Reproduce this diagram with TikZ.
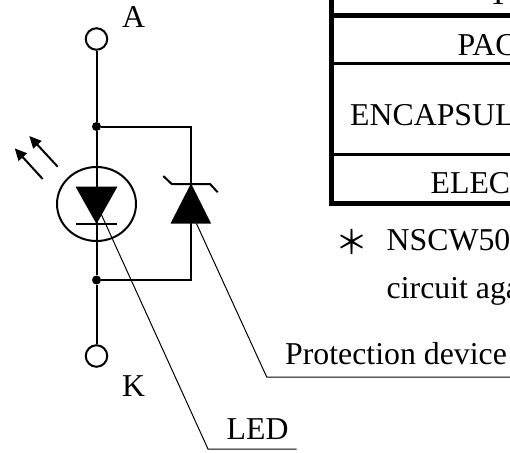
\documentclass[tikz,border=0pt]{standalone}
\usepackage{fontspec}
\setmainfont{Liberation Serif}
\newfontfamily\cjkfont{Noto Sans CJK JP}
\usetikzlibrary{arrows.meta}

\begin{document}
\begin{tikzpicture}[x=1pt,y=-1pt,
    wire/.style={line width=2pt},
    leader/.style={line width=1pt},
    terminal/.style={circle, draw, line width=2pt, inner sep=0pt, minimum size=21.5pt},
    junction/.style={circle, fill=black, inner sep=0pt, minimum size=9pt},
    lbl/.style={anchor=base west, inner sep=0pt, font=\fontsize{31.8}{32}\selectfont},
    rule/.style={line width=2.2pt},
    frame/.style={line width=5pt}]
    \useasboundingbox (0,0) rectangle (510,452);

    \node[terminal] (termA) at (96.5,39) {};
    \node[terminal] (termK) at (96.5,356) {};
    \node[junction] (dotT) at (96.5,126.5) {};
    \node[junction] (dotB) at (96.5,280) {};
    \coordinate (cornerT) at (191,126.5);
    \coordinate (cornerB) at (191,280);
    \node[lbl] (labA) at (122,28) {A};
    \node[lbl] (labK) at (122,396) {K};

    % circuit
    \draw[wire] (termA) -- (dotT) -- (dotB) -- (termK);
    \draw[wire] (dotT) -- (cornerT) -- (cornerB) -- (dotB);
    \draw[wire] (96.5,204) ellipse (39.5 and 37);

    % LED
    \fill (75.5,186.5) -- (117.5,186.5) -- (96.5,224) -- cycle;
    \draw[line width=2.2pt] (76,224) -- (117,224);
    \draw[wire,-{Triangle[length=12pt,width=11pt]}] (57.7,166.7) -- (29.3,136);
    \draw[wire,-{Triangle[length=12pt,width=11pt]}] (42.7,179) -- (14.7,148.3);

    % protection device
    \fill (191,183.5) -- (211,223.5) -- (170.5,223.5) -- cycle;
    \draw[wire] (163.3,176) -- (171.7,184) -- (210,184) -- (217.7,192.3);

    % leaders
    \node[lbl] (labLED) at (226.5,439) {LED};
    \node[lbl] (labProt) at (285,364) {Protection device};
    \draw[leader] (97,205) -- (208,449) -- (296.7,449);
    \draw[leader] (193,216) -- (266.7,377) -- (510,377);

    % table
    \draw[frame] (331.5,0) -- (331.5,203.5) -- (510,203.5);
    \draw[frame] (331.5,15.5) -- (510,15.5);
    \draw[rule] (331.5,63.5) -- (510,63.5);
    \draw[rule] (331.5,154.5) -- (510,154.5);
    \node[lbl] (rowA) at (488.5,5) {TY};
    \node[lbl] (rowB) at (457.5,56) {PAC};
    \node[lbl] (rowC) at (350,125) {ENCAPSUL};
    \node[lbl] (rowD) at (430.5,193) {ELEC};

    % note
    \node[inner sep=0pt, font=\fontsize{33}{33}\cjkfont] (star) at (351.5,242) {＊};
    \node[lbl] (noteA) at (386.5,250.5) {NSCW50};
    \node[lbl] (noteB) at (386.5,298) {circuit aga};
\end{tikzpicture}
\end{document}
